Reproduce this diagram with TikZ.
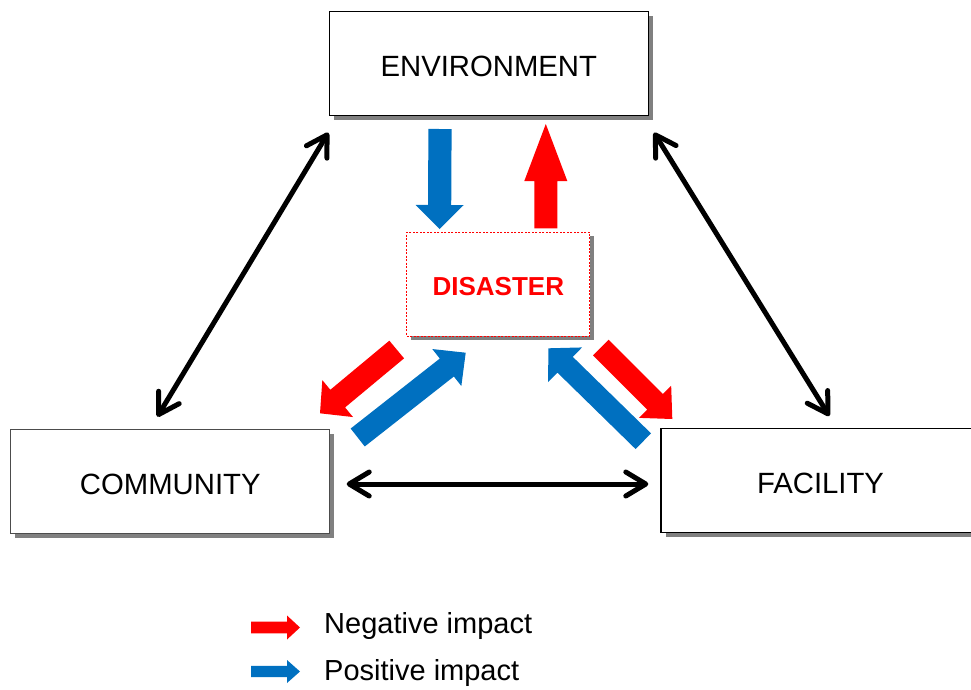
\documentclass[tikz,border=0pt]{standalone}
\usepackage{fontspec}
\setmainfont{Liberation Sans}
\usetikzlibrary{calc,shadows,arrows.meta}
\definecolor{impred}{HTML}{FF0000}
\definecolor{impblue}{HTML}{0070C0}
% #1 tail, #2 tip, #3 shaft half width, #4 head half width, #5 head length, #6 colour
\newcommand\fatarr[6]{%
  \coordinate (fa-b) at ($(#2)!#5!(#1)$);
  \fill[#6] ($(#1)!#3!90:(#2)$) -- ($(fa-b)!#3!-90:(#1)$) -- ($(fa-b)!#4!-90:(#1)$)
    -- (#2) -- ($(fa-b)!#4!90:(#1)$) -- ($(fa-b)!#3!90:(#1)$) -- ($(#1)!#3!-90:(#2)$) -- cycle;
}
\begin{document}
\begin{tikzpicture}[x=1pt,y=-1pt,
  box/.style={draw=black, line width=1.3pt, fill=white, minimum width=319pt,
    minimum height=104pt, inner sep=0pt, font=\fontsize{29.3}{34}\selectfont,
    text height=27pt, text depth=0pt,
    drop shadow={shadow xshift=4.5pt,shadow yshift=-4.5pt,fill=black!50,opacity=1}},
  disbox/.style={draw=impred, line width=0.9pt, dash pattern=on 2pt off 1.5pt,
    fill=white, minimum width=183pt, minimum height=104pt, inner sep=0pt,
    text=impred, font=\fontsize{26}{30}\selectfont\bfseries,
    text height=22.6pt, text depth=0pt,
    drop shadow={shadow xshift=4pt,shadow yshift=-3.5pt,fill=black!50,opacity=1}},
  dbl/.style={line width=5pt,
    {Straight Barb[length=20pt,width=24pt,round]}-{Straight Barb[length=20pt,width=24pt,round]}},
  legtext/.style={anchor=base west, font=\fontsize{29}{34}\selectfont, inner sep=0pt}
]
\useasboundingbox (0,0) rectangle (971,689);
\clip (0,0) rectangle (971,689);

% boxes
\node[box] (env) at (488.8,63.4) {ENVIRONMENT};
\node[box, draw=black!70] (com) at (170.3,481.3) {COMMUNITY};
\node[box] (fac) at (820.5,480.3) {FACILITY};
\node[disbox] (dis) at (498.3,284.2) {DISASTER};

% double-headed black arrows
\coordinate (ce1) at (328.3,132.7); \coordinate (ce2) at (157.3,416.7);
\coordinate (fe1) at (654,132.7);   \coordinate (fe2) at (829.3,416);
\coordinate (cf1) at (346.7,484);   \coordinate (cf2) at (648.3,484);
\draw[dbl] (ce1) -- (ce2);
\draw[dbl] (fe1) -- (fe2);
\draw[dbl] (cf1) -- (cf2);

% impact arrows
\coordinate (bd1) at (440,129);     \coordinate (bd2) at (439.5,229);
\fatarr{bd1}{bd2}{11.6pt}{24pt}{24pt}{impblue}
\coordinate (ru1) at (545.8,228.3); \coordinate (ru2) at (545.8,124);
\fatarr{ru1}{ru2}{11.5pt}{21.5pt}{57pt}{impred}
\coordinate (rl1) at (396.7,349.5); \coordinate (rl2) at (320,413.3);
\fatarr{rl1}{rl2}{11.5pt}{24pt}{23pt}{impred}
\coordinate (bl1) at (357.7,437.5); \coordinate (bl2) at (465.7,352.7);
\fatarr{bl1}{bl2}{11.4pt}{23.5pt}{24pt}{impblue}
\coordinate (br1) at (643.3,441.2); \coordinate (br2) at (548.3,348.3);
\fatarr{br1}{br2}{11pt}{24.2pt}{23.5pt}{impblue}
\coordinate (rr1) at (600.8,347.5); \coordinate (rr2) at (672.3,419);
\fatarr{rr1}{rr2}{11pt}{22.7pt}{24.3pt}{impred}

% legend
\coordinate (lr1) at (251,627.5); \coordinate (lr2) at (300,627.5);
\fatarr{lr1}{lr2}{5.8pt}{12pt}{13pt}{impred}
\coordinate (lb1) at (251,671.5); \coordinate (lb2) at (300,671.5);
\fatarr{lb1}{lb2}{5.6pt}{11.5pt}{13pt}{impblue}
\node[legtext] (neg) at (324,633.5) {Negative impact};
\node[legtext] (pos) at (324,680) {Positive impact};
\end{tikzpicture}
\end{document}
